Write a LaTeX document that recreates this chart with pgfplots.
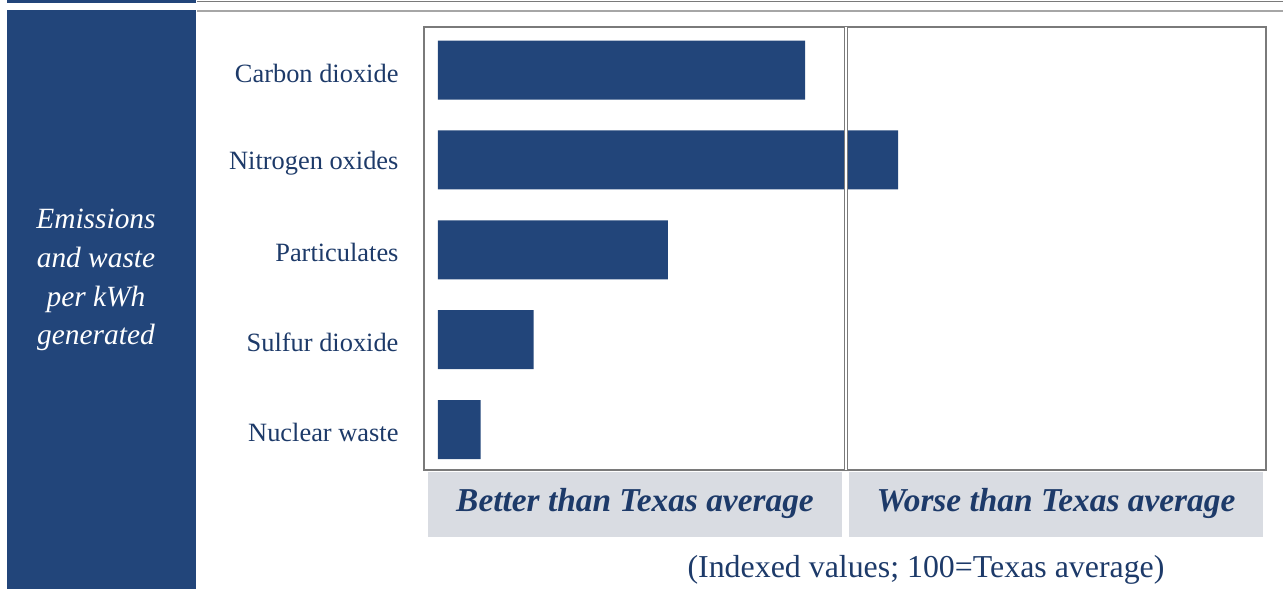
\documentclass[border=0pt]{standalone}
\usepackage{pgfplots}
\pgfplotsset{compat=1.18}
\usepackage{fontspec}
\setmainfont{Liberation Serif}
\definecolor{navy}{HTML}{22457A}
\definecolor{navytext}{HTML}{1D3A69}
\definecolor{boxgray}{HTML}{D9DCE2}
\definecolor{framegray}{HTML}{7A7A7A}
\begin{document}
\begin{tikzpicture}[x=1bp,y=1bp]
\useasboundingbox (0,0) rectangle (1283,589);
% top strip and lines
\fill[navy] (7,586) rectangle (196,589);
\draw[framegray, line width=1bp] (197,587) -- (1283,587);
\draw[gray!70, line width=1.5bp] (197,578) -- (1283,578);
% left panel
\fill[navy] (7,0) rectangle (196,579);
\node[text=white, align=center, font=\fontsize{29.5}{39}\selectfont\itshape] at (96,309) {Emissions\\and waste\\per kWh\\generated};
% bottom boxes
\fill[boxgray] (428,52) rectangle (842,117);
\fill[boxgray] (849,52) rectangle (1263,117);
\node[text=navytext, font=\fontsize{33.5}{36}\selectfont\bfseries\itshape] at (635,85.5) {Better than Texas average};
\node[text=navytext, font=\fontsize{33.5}{36}\selectfont\bfseries\itshape] at (1056,85.5) {Worse than Texas average};
\node[text=navytext, font=\fontsize{32}{36}\selectfont] at (926,19.5) {(Indexed values; 100=Texas average)};
\begin{axis}[
  at={(424bp,119bp)}, anchor=south west,
  scale only axis, width=842bp, height=443bp,
  xbar, bar width=59bp, bar shift=0pt,
  xmin=-3.4, xmax=203,
  ymin=-0.48, ymax=4.45, y dir=reverse,
  axis line style={framegray, line width=1.2bp},
  xtick=\empty,
  ytick={0,1,2,3,4},
  yticklabels={Carbon dioxide, Nitrogen oxides, Particulates, Sulfur dioxide, Nuclear waste},
  major tick length=0pt,
  yticklabel style={text=navytext, font=\fontsize{26.5}{28}\selectfont, anchor=east, xshift=-22bp, yshift=-3bp},
  clip=false,
]
\addplot[fill=navy, draw=none] coordinates {(90,0) (112.8,1) (56.4,2) (23.5,3) (10.5,4)};
\draw[framegray, line width=1bp, double=white, double distance=2bp]
  ({axis cs:100,0}|-{rel axis cs:0,0}) -- ({axis cs:100,0}|-{rel axis cs:0,1});
\end{axis}
\end{tikzpicture}
\end{document}
